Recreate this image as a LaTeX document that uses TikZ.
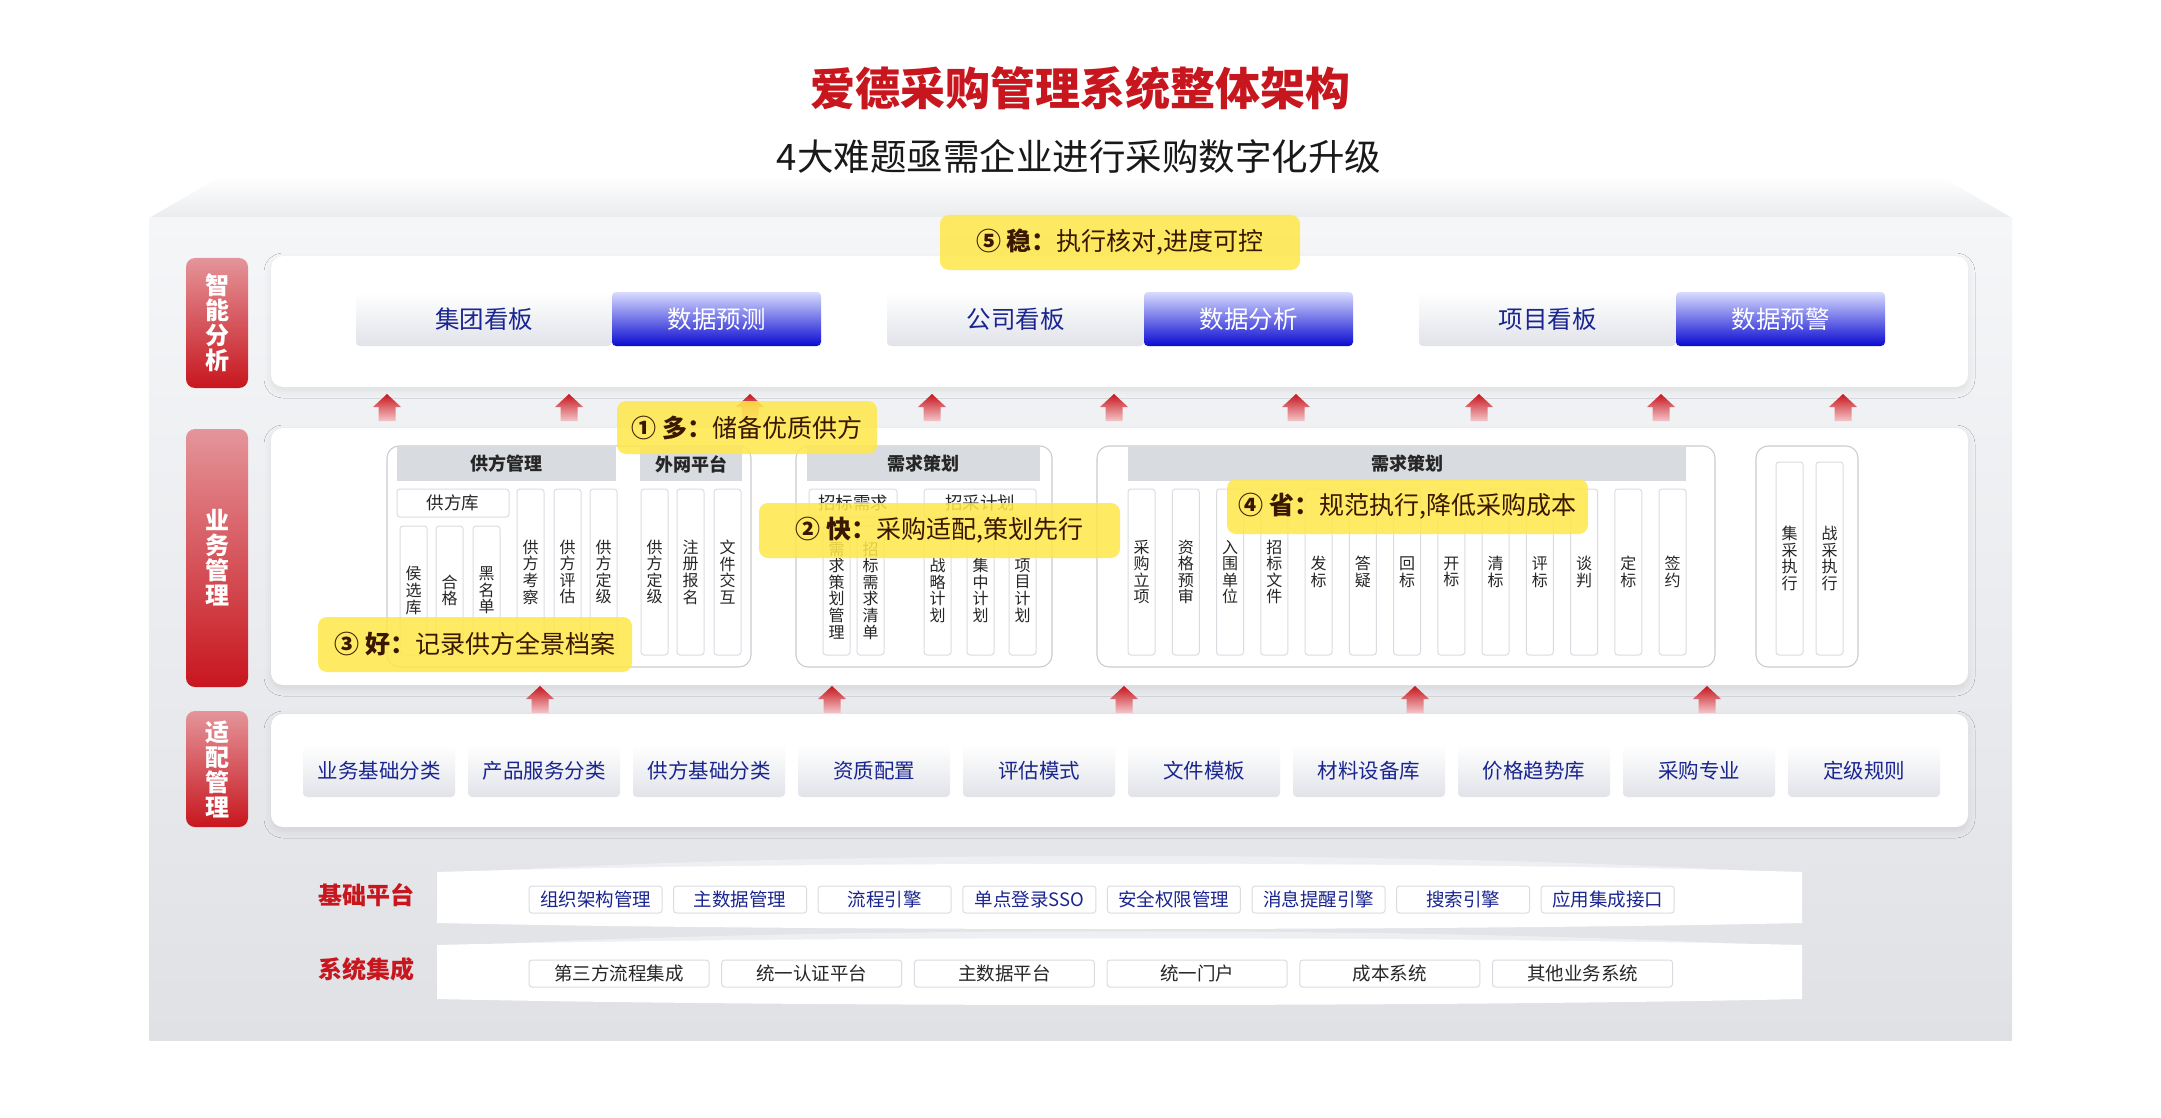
\documentclass[tikz,border=0pt]{standalone}
\usepackage{fontspec}
\setmainfont{Noto Sans CJK SC}
\usetikzlibrary{shadows.blur}
\definecolor{tred}{HTML}{C8161E}
\definecolor{rtop}{HTML}{E4959A}
\definecolor{navy}{HTML}{1A2590}
\definecolor{cyel}{HTML}{FFE74A}
\definecolor{cbrown}{HTML}{3A1800}
\definecolor{hdr}{HTML}{D8DBE0}
\definecolor{gbord}{HTML}{C9CCD1}
\definecolor{cbord}{HTML}{DADCE1}
\definecolor{bgtop}{HTML}{F5F6F8}
\definecolor{bgbot}{HTML}{DFE1E5}
\definecolor{topface}{HTML}{E9EBEE}
\definecolor{btnbot}{HTML}{E1E3E9}
\definecolor{bluetop}{HTML}{D9DCFF}
\definecolor{bluebot}{HTML}{0A0AD0}
\definecolor{coltext}{HTML}{262626}
\definecolor{arrbot}{HTML}{F3C6C9}
\definecolor{rim}{HTML}{EDEFF2}
\begin{document}
\begin{tikzpicture}[x=1pt,y=-1pt,
  every node/.style={inner sep=0pt,outer sep=0pt},
  panel/.style={fill=white,rounded corners=12pt,anchor=north west,minimum width=1697pt,
    blur shadow={shadow xshift=0pt,shadow yshift=-4pt,shadow blur radius=7pt,shadow opacity=8}},
  redlab/.style={rounded corners=9pt,top color=rtop,bottom color=tred,text=white,
    font=\fontsize{24}{25}\selectfont\bfseries,align=center,anchor=north west,minimum width=62pt},
  lbtn/.style={rounded corners=4pt,top color=white,bottom color=btnbot,text=navy,anchor=north west},
  bbtn/.style={rounded corners=4pt,top color=bluetop,bottom color=bluebot,text=white,anchor=north west},
  callout/.style={rounded corners=9pt,fill=cyel,fill opacity=0.86,text opacity=1,text=cbrown,
    font=\fontsize{25}{28}\selectfont,anchor=north west},
  grp/.style={draw=gbord,line width=1.1pt,rounded corners=12pt,fill=white,anchor=north west,minimum height=221pt},
  hdrbar/.style={fill=hdr,anchor=north west,minimum height=34pt,font=\fontsize{18}{20}\selectfont\bfseries,text=black!85},
  subhd/.style={draw=cbord,line width=1pt,rounded corners=3pt,fill=white,anchor=north west,minimum height=28pt,
    font=\fontsize{17.5}{19}\selectfont,text=coltext},
  colb/.style={draw=cbord,line width=1pt,fill=white,rounded corners=3pt,minimum width=27pt,anchor=north west,
    align=center,font=\fontsize{16}{16.6}\selectfont,text=coltext},
  itm/.style={draw=cbord,line width=1pt,fill=white,rounded corners=3pt,anchor=north west,minimum height=27pt,
    font=\fontsize{18.5}{20}\selectfont},
  bandlab/.style={font=\fontsize{24}{26}\selectfont\bfseries,text=tred},
  uparr/.pic={\shade[top color=tred,bottom color=arrbot] (0,0) -- (14,13) -- (8.5,13) -- (8.5,27) -- (-8.5,27) -- (-8.5,13) -- (-14,13) -- cycle;}
]
\useasboundingbox (0,0) rectangle (2161,1118);
\fill[white] (0,0) rectangle (2161,1118);
% 3D box
\shade[top color=white,bottom color=topface] (149,218) -- (222,176) -- (1940,176) -- (2012,218) -- cycle;
\shade[top color=bgtop,bottom color=bgbot] (149,218) rectangle (2012,1040);

% titles
\node[font=\fontsize{45}{50}\selectfont\bfseries,text=tred] (title) at (1080,88) {爱德采购管理系统整体架构};
\node[font=\fontsize{36.5}{40}\selectfont,text=black!90] (sub) at (1079,157) {4大难题亟需企业进行采购数字化升级};

% panels
\node[panel,minimum height=131pt] (p1) at (271,256) {};
\node[panel,minimum height=257pt] (p2) at (271,428) {};
\node[panel,minimum height=113pt] (p3) at (271,714) {};

% red labels
\node[redlab,minimum height=130pt] (l1) at (186,258) {智\\能\\分\\析};
\node[redlab,minimum height=258pt] (l2) at (186,429) {业\\务\\管\\理};
\node[redlab,minimum height=116pt] (l3) at (186,711) {适\\配\\管\\理};

% layer 1 buttons
\begin{scope}[every node/.append style={minimum height=54pt,font=\fontsize{24.5}{26}\selectfont}]
\node[lbtn,minimum width=256pt] (k1) at (356,292) {集团看板};
\node[bbtn,minimum width=209pt] (k2) at (612,292) {数据预测};
\node[lbtn,minimum width=257pt] (k3) at (887,292) {公司看板};
\node[bbtn,minimum width=209pt] (k4) at (1144,292) {数据分析};
\node[lbtn,minimum width=257pt] (k5) at (1419,292) {项目看板};
\node[bbtn,minimum width=209pt] (k6) at (1676,292) {数据预警};
\end{scope}

% group 1
\node[grp,minimum width=364pt] (g1) at (387,446) {};
\node[hdrbar,minimum width=219pt] (h1) at (397,447) {供方管理};
\node[hdrbar,minimum width=102pt] (h2) at (640,447) {外网平台};
\node[subhd,minimum width=112pt] (s1) at (397,489) {供方库};
\node[colb,minimum height=129pt] (c1) at (400,526) {侯\\选\\库};
\node[colb,minimum height=129pt] (c2) at (436,526) {合\\格};
\node[colb,minimum height=129pt] (c3) at (473,526) {黑\\名\\单};
\node[colb,minimum height=166pt] (c4) at (517,489) {供\\方\\考\\察};
\node[colb,minimum height=166pt] (c5) at (554,489) {供\\方\\评\\估};
\node[colb,minimum height=166pt] (c6) at (590,489) {供\\方\\定\\级};
\node[colb,minimum height=166pt] (c7) at (641,489) {供\\方\\定\\级};
\node[colb,minimum height=166pt] (c8) at (677,489) {注\\册\\报\\名};
\node[colb,minimum height=166pt] (c9) at (714,489) {文\\件\\交\\互};

% group 2
\node[grp,minimum width=256pt] (g2) at (796,446) {};
\node[hdrbar,minimum width=233pt] (h3) at (807,447) {需求策划};
\node[subhd,minimum width=88pt] (s2) at (809,489) {招标需求};
\node[subhd,minimum width=112pt] (s3) at (924,489) {招采计划};
\node[colb,minimum height=129pt] (d1) at (823,526) {需\\求\\策\\划\\管\\理};
\node[colb,minimum height=129pt] (d2) at (857,526) {招\\标\\需\\求\\清\\单};
\node[colb,minimum height=129pt] (d3) at (924,526) {战\\略\\计\\划};
\node[colb,minimum height=129pt] (d4) at (967,526) {集\\中\\计\\划};
\node[colb,minimum height=129pt] (d5) at (1009,526) {项\\目\\计\\划};

% group 3
\node[grp,minimum width=618pt] (g3) at (1097,446) {};
\node[hdrbar,minimum width=558pt] (h4) at (1128,447) {需求策划};
\foreach \t [count=\i from 0] in {{采\\购\\立\\项},{资\\格\\预\\审},{入\\围\\单\\位},{招\\标\\文\\件},{发\\标},{答\\疑},{回\\标},{开\\标},{清\\标},{评\\标},{谈\\判},{定\\标},{签\\约}}
  \node[colb,minimum height=166pt] (e\i) at ({1128+44.25*\i},489) {\t};

% group 4
\node[grp,minimum width=102pt] (g4) at (1756,446) {};
\node[colb,minimum height=193pt] (f1) at (1776,462) {集\\采\\执\\行};
\node[colb,minimum height=193pt] (f2) at (1816,462) {战\\采\\执\\行};

% layer 3 buttons
\foreach \t [count=\i from 0] in {业务基础分类,产品服务分类,供方基础分类,资质配置,评估模式,文件模板,材料设备库,价格趋势库,采购专业,定级规则}
  \node[lbtn,minimum width=152pt,minimum height=52pt,font=\fontsize{20.5}{22}\selectfont] (a\i) at ({303+165*\i},745) {\t};

% arrows
\foreach \x in {387,569,750,932,1114,1296,1479,1661,1843} \pic at (\x,394) {uparr};
\foreach \x in {540,832,1124,1415,1707} \pic at (\x,686) {uparr};

% callouts
\node[callout,minimum width=360pt,minimum height=55pt] (q5) at (940,215) {\textbf{⑤ 稳：}执行核对,进度可控};
\node[callout,minimum width=260pt,minimum height=53pt] (q1) at (617,401) {\textbf{① 多：}储备优质供方};
\node[callout,minimum width=361pt,minimum height=55pt] (q2) at (759,503) {\textbf{② 快：}采购适配,策划先行};
\node[callout,minimum width=314pt,minimum height=55pt] (q3) at (318,617) {\textbf{③ 好：}记录供方全景档案};
\node[callout,minimum width=361pt,minimum height=55pt] (q4) at (1227,479) {\textbf{④ 省：}规范执行,降低采购成本};

% base bands
\fill[rim] (437,874) .. controls (800,850) and (1440,850) .. (1802,874) -- cycle;
\fill[white] (437,872) .. controls (800,861) and (1440,861) .. (1802,872) -- (1802,923) .. controls (1440,931) and (800,931) .. (437,923) -- cycle;
\fill[rim] (437,947) .. controls (800,926) and (1440,926) .. (1802,947) -- cycle;
\fill[white] (437,945) .. controls (800,936) and (1440,936) .. (1802,945) -- (1802,999) .. controls (1440,1007) and (800,1007) .. (437,999) -- cycle;

\node[bandlab] (bl1) at (366,895) {基础平台};
\node[bandlab] (bl2) at (366,969) {系统集成};
\foreach \t [count=\i from 0] in {组织架构管理,主数据管理,流程引擎,单点登录SSO,安全权限管理,消息提醒引擎,搜索引擎,应用集成接口}
  \node[itm,text=navy,minimum width=133pt] (b\i) at ({529+144.6*\i},886) {\t};
\foreach \t [count=\i from 0] in {第三方流程集成,统一认证平台,主数据平台,统一门户,成本系统,其他业务系统}
  \node[itm,text=black!85,minimum width=180pt] (s\i) at ({529+192.7*\i},960) {\t};
\end{tikzpicture}
\end{document}
